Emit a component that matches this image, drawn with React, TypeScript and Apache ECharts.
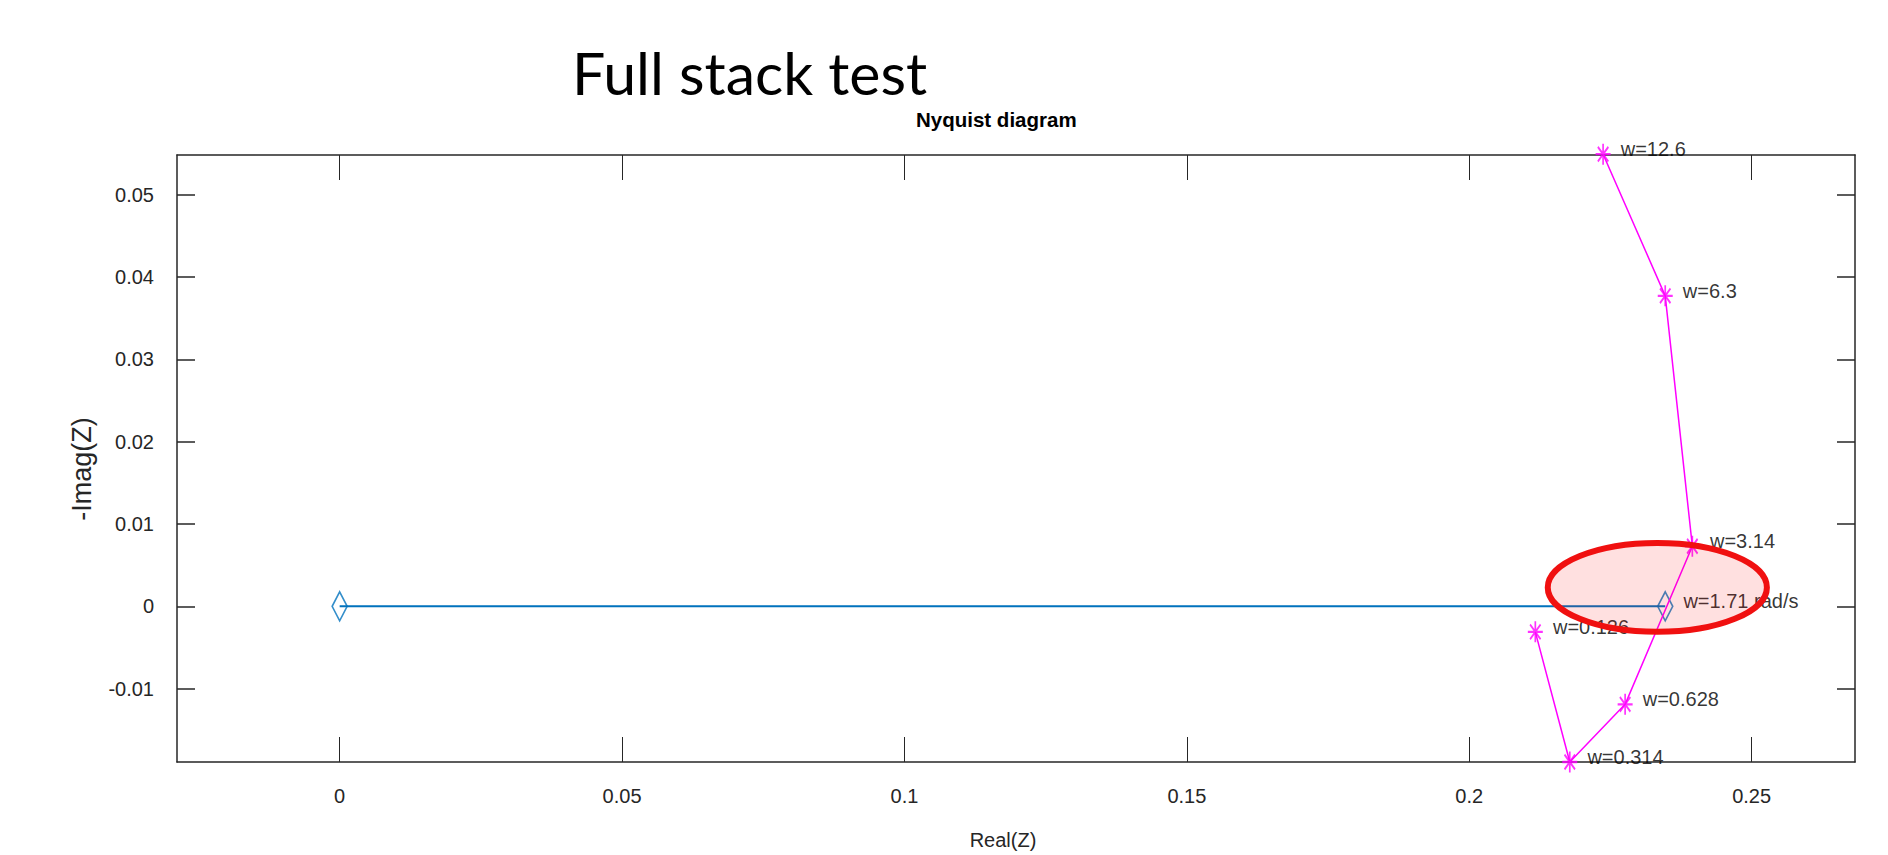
import React, { useEffect, useRef } from "react";
import * as echarts from "echarts";

// ---- data ----
const starLabels = ["w=0.126", "w=0.314", "w=0.628", "w=3.14", "w=6.3", "w=12.6"];
const starRe = [0.2117, 0.2178, 0.2276, 0.2395, 0.2347, 0.2237];
const starIm = [-0.0031, -0.0189, -0.0119, 0.0073, 0.0377, 0.0549];

const diamondRe = [0, 0.2347];
const diamondIm = [0, 0];
const diamondLabels = ["", "w=1.71 rad/s"];

const xTicks = [0, 0.05, 0.1, 0.15, 0.2, 0.25];
const yTicks = [-0.01, 0, 0.01, 0.02, 0.03, 0.04, 0.05];
const xRange = [-0.0288, 0.2683];
const yRange = [-0.0189, 0.0548];

// highlight ellipse annotation: centre (re, im) and half-axes (re, im)
const ellipseCenter = [0.2333, 0.0023];
const ellipseHalfAxes = [0.0194, 0.0054];

const SANS = '"Liberation Sans", Arial, Helvetica, sans-serif';
const AXIS_COLOR = "#262626";

export default function App() {
  const ref = useRef<HTMLDivElement>(null);

  useEffect(() => {
    document.body.style.margin = "0";
    const chart = echarts.init(ref.current!, null, { renderer: "svg" });

    const axisCommon = {
      type: "value" as const,
      splitLine: { show: false },
      axisLine: { show: true, onZero: false, lineStyle: { color: AXIS_COLOR, width: 1.5 } },
    };

    const option: any = {
      animation: false,
      backgroundColor: "#ffffff",
      title: [
        {
          text: "Full stack test",
          left: 567,
          top: 38,
          textStyle: { fontFamily: "Lato, 'Open Sans', sans-serif", fontSize: 59, fontWeight: "normal", color: "#000" },
        },
        {
          text: "Nyquist diagram",
          left: 911,
          top: 104,
          textStyle: { fontFamily: SANS, fontSize: 20.5, fontWeight: "bold", color: "#000" },
        },
      ],
      grid: { left: 177, right: 33, top: 155, bottom: 88, containLabel: false },
      xAxis: [
        {
          ...axisCommon,
          position: "bottom",
          min: xRange[0],
          max: xRange[1],
          axisTick: { show: true, inside: true, length: 25, customValues: xTicks, lineStyle: { color: AXIS_COLOR, width: 1 } },
          axisLabel: {
            show: true,
            customValues: xTicks,
            margin: 24,
            fontFamily: SANS,
            fontSize: 20,
            color: AXIS_COLOR,
            formatter: (v: number) => String(v),
          },
          name: "Real(Z)",
          nameLocation: "middle",
          nameGap: 68,
          nameTextStyle: { fontFamily: SANS, fontSize: 20, color: AXIS_COLOR, padding: [0, 26, 0, 0] },
        },
        {
          ...axisCommon,
          position: "top",
          min: xRange[0],
          max: xRange[1],
          axisTick: { show: true, inside: true, length: 25, customValues: xTicks, lineStyle: { color: AXIS_COLOR, width: 1 } },
          axisLabel: { show: false },
        },
      ],
      yAxis: [
        {
          ...axisCommon,
          position: "left",
          min: yRange[0],
          max: yRange[1],
          axisTick: { show: true, inside: true, length: 18, customValues: yTicks, lineStyle: { color: AXIS_COLOR, width: 1.5 } },
          axisLabel: {
            show: true,
            customValues: yTicks,
            margin: 23,
            fontFamily: SANS,
            fontSize: 20,
            color: AXIS_COLOR,
            padding: [0, 0, 11, 0],
            formatter: (v: number) => String(v),
          },
          name: "-Imag(Z)",
          nameLocation: "middle",
          nameGap: 82,
          nameRotate: 90,
          nameTextStyle: { fontFamily: SANS, fontSize: 27, color: AXIS_COLOR, padding: [0, 21, 0, 0] },
        },
        {
          ...axisCommon,
          position: "right",
          min: yRange[0],
          max: yRange[1],
          axisTick: { show: true, inside: true, length: 18, customValues: yTicks, lineStyle: { color: AXIS_COLOR, width: 1.5 } },
          axisLabel: { show: false },
        },
      ],
      series: [
        {
          type: "line",
          xAxisIndex: 0,
          yAxisIndex: 0,
          data: diamondRe.map((x, i) => [x, diamondIm[i]]),
          showSymbol: false,
          symbol: "none",
          lineStyle: { color: "#0072BD", width: 2 },
          clip: false,
          z: 2,
        },
        {
          type: "scatter",
          xAxisIndex: 0,
          yAxisIndex: 0,
          data: diamondRe.map((x, i) => ({ value: [x, diamondIm[i]], name: diamondLabels[i] })),
          symbol: "diamond",
          symbolSize: [15, 29],
          itemStyle: { color: "rgba(0,0,0,0)", borderColor: "#0072BD", borderWidth: 1.8 },
          label: {
            show: true,
            position: "right",
            distance: 10,
            offset: [0, -5],
            formatter: (p: any) => p.name,
            fontFamily: SANS,
            fontSize: 20,
            color: "#000",
          },
          clip: false,
          z: 3,
        },
        {
          type: "line",
          xAxisIndex: 0,
          yAxisIndex: 0,
          data: starRe.map((x, i) => [x, starIm[i]]),
          showSymbol: false,
          symbol: "none",
          lineStyle: { color: "#FF00FF", width: 1.5 },
          clip: false,
          z: 4,
        },
        {
          type: "scatter",
          xAxisIndex: 0,
          yAxisIndex: 0,
          data: starRe.map((x, i) => ({ value: [x, starIm[i]], name: starLabels[i] })),
          symbol: "path://M10,0L10,20M0,10L20,10M3,3L17,17M3,17L17,3",
          symbolSize: [15, 21],
          itemStyle: { color: "none", borderColor: "#FF00FF", borderWidth: 2 },
          label: {
            show: true,
            position: "right",
            distance: 8,
            offset: [0, -5],
            formatter: (p: any) => p.name,
            fontFamily: SANS,
            fontSize: 20,
            color: "#000",
          },
          clip: false,
          z: 5,
        },
      ],
    };

    chart.setOption(option);

    const c = chart.convertToPixel({ xAxisIndex: 0, yAxisIndex: 0 }, ellipseCenter);
    const e = chart.convertToPixel({ xAxisIndex: 0, yAxisIndex: 0 }, [
      ellipseCenter[0] + ellipseHalfAxes[0],
      ellipseCenter[1] + ellipseHalfAxes[1],
    ]);
    chart.setOption({
      graphic: [
        {
          type: "ellipse",
          z: 100,
          shape: { cx: c[0], cy: c[1], rx: Math.abs(e[0] - c[0]), ry: Math.abs(c[1] - e[1]) },
          style: { fill: "rgba(255,0,0,0.12)", stroke: "#F01010", lineWidth: 6 },
        },
      ],
    });

    return () => chart.dispose();
  }, []);

  return <div ref={ref} style={{ width: 1888, height: 855 }} />;
}
